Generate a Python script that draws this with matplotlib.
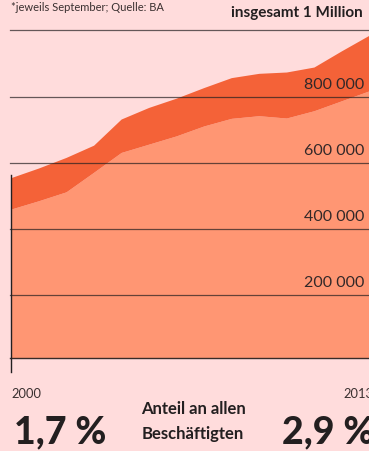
import matplotlib
matplotlib.use("Agg")
import matplotlib.pyplot as plt
import matplotlib.transforms as mtransforms

years = list(range(2000, 2014))
total = [555, 584, 616, 653, 732, 767, 795, 827, 857, 870, 874, 889, 938, 985]
subset = [460, 485, 512, 571, 631, 656, 681, 711, 734, 742, 735, 757, 787, 817]
total = [v * 1000 for v in total]
subset = [v * 1000 for v in subset]
grid_values = [200000, 400000, 600000, 800000, 1000000]
grid_labels = ["200 000", "400 000", "600 000", "800 000"]

BG = "#FFDCDC"
DARK = "#F46238"
LIGHT = "#FF9673"
INK = "#231F20"

plt.rcParams['font.family'] = ['Lato', 'DejaVu Sans']

W, H = 369, 452
fig = plt.figure(figsize=(W / 100, H / 100), dpi=100)
fig.patch.set_facecolor(BG)

def fx(px):
    return px / W

def fy(py):
    return 1 - py / H

left, right, top, bottom = 11, 369, 31.3, 359
ax = fig.add_axes([fx(left), fy(bottom), fx(right - left), (bottom - top) / H])
ax.set_facecolor(BG)
ax.set_xlim(2000, 2013)
ax.set_ylim(10000, 1000000)

ax.fill_between(years, 0, subset, color=LIGHT, lw=0, zorder=1)
ax.fill_between(years, subset, total, color=DARK, lw=0, zorder=1)

for v in grid_values:
    ax.axhline(v, xmin=-0.003, xmax=1, color=INK, lw=0.9, alpha=0.7, zorder=3, clip_on=False)
ax.axhline(10000, xmin=-0.003, xmax=1, color=INK, lw=1.0, alpha=0.9, zorder=3, clip_on=False)

for v, lab in zip(grid_values[:4], grid_labels):
    ax.annotate(lab, xy=(1, v), xycoords=("axes fraction", "data"),
                xytext=(-5, 6), textcoords="offset pixels",
                ha="right", va="bottom", fontsize=11.5, color="#332828",
                fontweight="normal", zorder=5)

trans = mtransforms.blended_transform_factory(ax.transData, ax.transAxes)
ax.plot([years[0], years[0]], [(total[0] - 10000) / 990000 + 0.008, -0.042],
        transform=trans, color=INK, lw=1.0, clip_on=False, zorder=4)

for s in ax.spines.values():
    s.set_visible(False)
ax.set_xticks([])
ax.set_yticks([])

fig.text(fx(11), fy(11), "*jeweils September; Quelle: BA", fontsize=8,
         color="#3a3030", ha="left", va="baseline")
fig.text(fx(363), fy(17.5), "insgesamt 1 Million", fontsize=11, fontweight="bold",
         color=INK, ha="right", va="baseline")

fig.text(fx(11), fy(398), "2000", fontsize=9.3, color="#3a3030", ha="left", va="baseline")
fig.text(fx(343), fy(398), "2013", fontsize=9.3, color="#3a3030", ha="left", va="baseline")

fig.text(fx(14), fy(443), "1,7 %", fontsize=27, fontweight="black", color=INK,
         ha="left", va="baseline")
fig.text(fx(282), fy(443), "2,9 %", fontsize=27, fontweight="black", color=INK,
         ha="left", va="baseline")
fig.text(fx(193), fy(414), "Anteil an allen", fontsize=12, fontweight="bold",
         color=INK, ha="center", va="baseline")
fig.text(fx(193), fy(439), "Beschäftigten", fontsize=12, fontweight="bold",
         color=INK, ha="center", va="baseline")

fig.savefig("out.png", dpi=100, facecolor=BG)
